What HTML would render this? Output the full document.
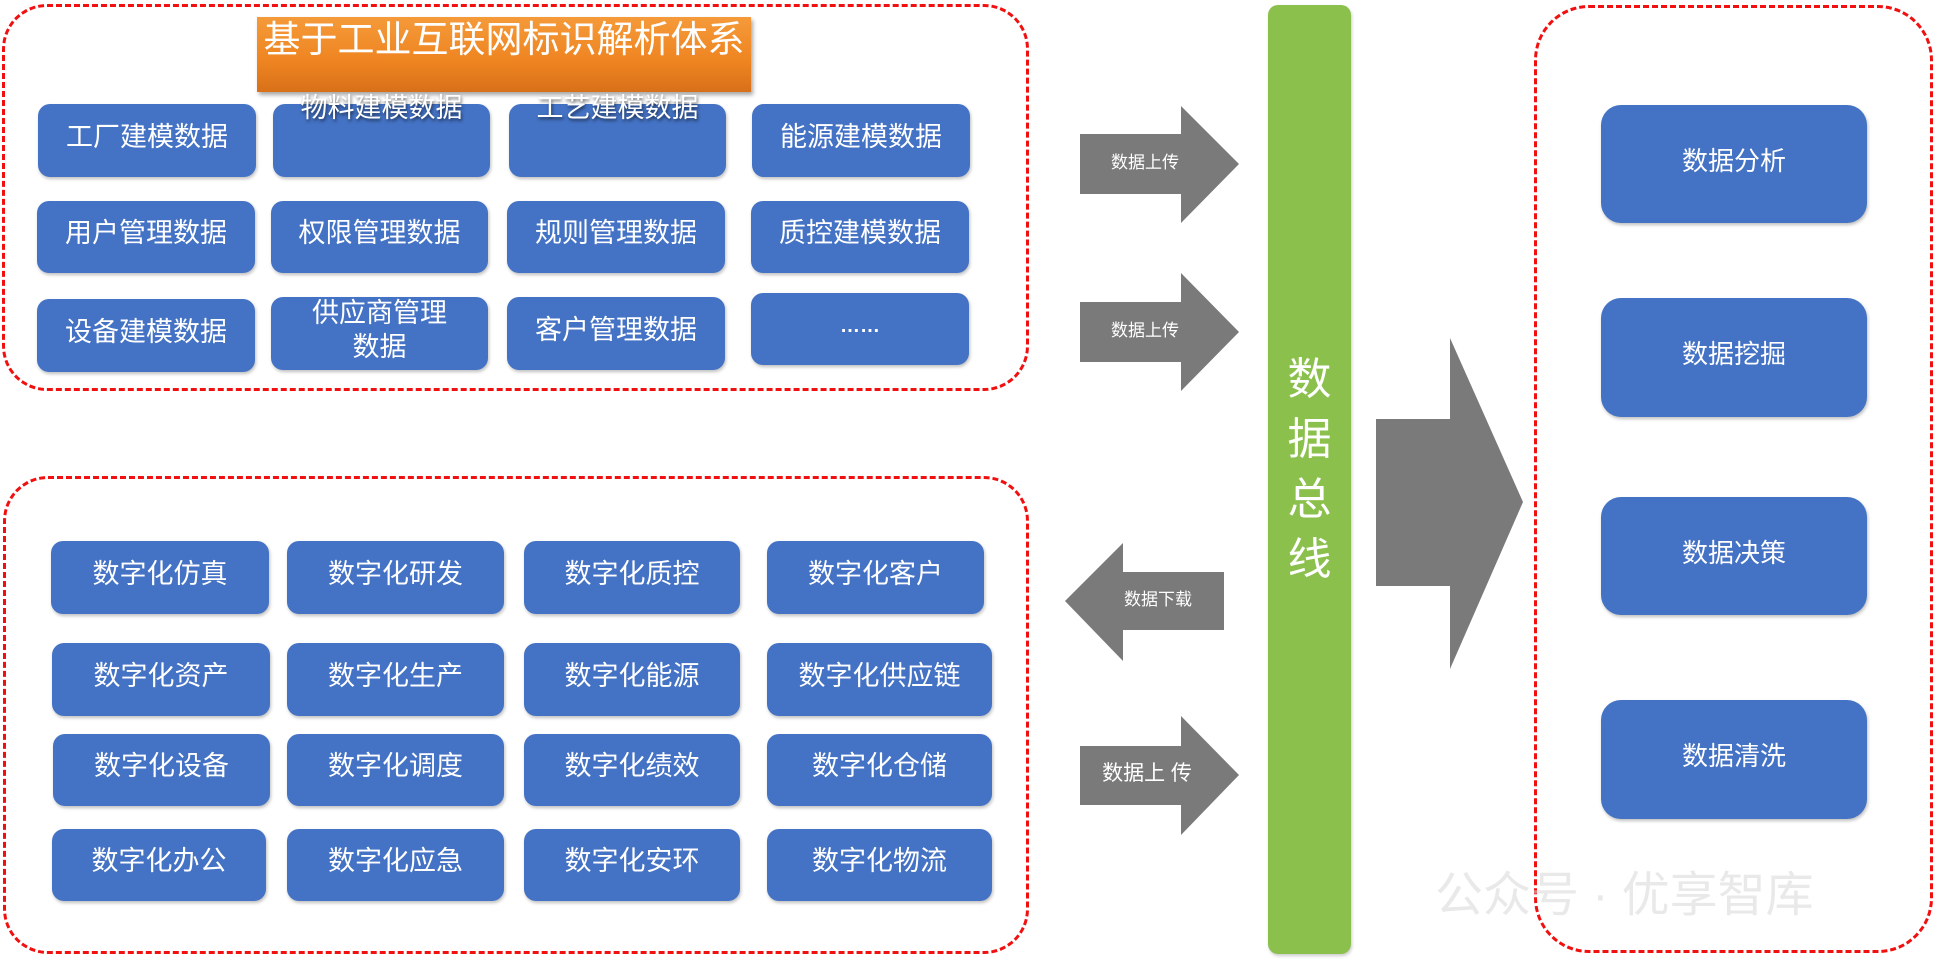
<!DOCTYPE html>
<html><head><meta charset="utf-8"><style>
body{margin:0;width:1935px;height:963px;background:#fff;position:relative;overflow:hidden;font-family:"Liberation Sans","Noto Sans CJK SC",sans-serif;}
.a{position:absolute;box-sizing:border-box;}
.dash{border:3px dashed #f01010;border-radius:45px;}
.b{position:absolute;box-sizing:border-box;background:#4472C4;border-radius:12px;color:#fff;font-size:27px;display:flex;align-items:center;justify-content:center;text-align:center;line-height:1.25;box-shadow:1px 2px 3px rgba(0,0,0,.25);padding-bottom:6px;}
.t{align-items:flex-start;padding-top:0;}
.lbl{position:absolute;color:#fff;font-size:17px;text-align:center;}
</style></head><body>
<div class="a dash" style="left:2px;top:4px;width:1027px;height:387px;"></div>
<div class="a dash" style="left:3px;top:476px;width:1026px;height:478px;"></div>
<div class="a dash" style="left:1534px;top:5px;width:399px;height:948px;border-radius:55px;"></div>

<div class="a" style="left:257px;top:17px;width:494px;height:75px;background:linear-gradient(#f59a3a,#ee8420 60%,#d8701a);box-shadow:2px 3px 4px rgba(0,0,0,.35);color:#fff;font-size:37px;line-height:46px;text-align:center;white-space:nowrap;">基于工业互联网标识解析体系</div>

<div class="b" style="left:38px;top:104px;width:218px;height:73px;">工厂建模数据</div>
<div class="b t" style="left:273px;top:104px;width:217px;height:73px;"><span style="margin-top:-12px;text-shadow:1px 2px 3px rgba(0,0,0,.6)">物料建模数据</span></div>
<div class="b t" style="left:509px;top:104px;width:217px;height:73px;"><span style="margin-top:-12px;text-shadow:1px 2px 3px rgba(0,0,0,.6)">工艺建模数据</span></div>
<div class="b" style="left:752px;top:104px;width:218px;height:73px;">能源建模数据</div>
<div class="b" style="left:37px;top:201px;width:218px;height:72px;">用户管理数据</div>
<div class="b" style="left:271px;top:201px;width:217px;height:72px;">权限管理数据</div>
<div class="b" style="left:507px;top:201px;width:218px;height:72px;">规则管理数据</div>
<div class="b" style="left:751px;top:201px;width:218px;height:72px;">质控建模数据</div>
<div class="b" style="left:37px;top:299px;width:218px;height:73px;">设备建模数据</div>
<div class="b" style="left:271px;top:297px;width:217px;height:73px;">供应商管理<br>数据</div>
<div class="b" style="left:507px;top:297px;width:218px;height:73px;">客户管理数据</div>
<div class="b" style="left:751px;top:293px;width:218px;height:72px;font-size:20px;font-weight:bold;">……</div>

<div class="b" style="left:51px;top:541px;width:218px;height:73px;">数字化仿真</div>
<div class="b" style="left:287px;top:541px;width:217px;height:73px;">数字化研发</div>
<div class="b" style="left:524px;top:541px;width:216px;height:73px;">数字化质控</div>
<div class="b" style="left:767px;top:541px;width:217px;height:73px;">数字化客户</div>
<div class="b" style="left:52px;top:643px;width:218px;height:73px;">数字化资产</div>
<div class="b" style="left:287px;top:643px;width:217px;height:73px;">数字化生产</div>
<div class="b" style="left:524px;top:643px;width:216px;height:73px;">数字化能源</div>
<div class="b" style="left:767px;top:643px;width:225px;height:73px;">数字化供应链</div>
<div class="b" style="left:53px;top:734px;width:217px;height:72px;">数字化设备</div>
<div class="b" style="left:287px;top:734px;width:217px;height:72px;">数字化调度</div>
<div class="b" style="left:524px;top:734px;width:216px;height:72px;">数字化绩效</div>
<div class="b" style="left:767px;top:734px;width:225px;height:72px;">数字化仓储</div>
<div class="b" style="left:52px;top:829px;width:214px;height:72px;">数字化办公</div>
<div class="b" style="left:287px;top:829px;width:217px;height:72px;">数字化应急</div>
<div class="b" style="left:524px;top:829px;width:216px;height:72px;">数字化安环</div>
<div class="b" style="left:767px;top:829px;width:225px;height:72px;">数字化物流</div>

<svg class="a" style="left:0;top:0" width="1935" height="963">
<g fill="#7a7a7a">
<polygon points="1080,134 1181,134 1181,106 1239,164 1181,223 1181,194 1080,194"/>
<polygon points="1080,302 1181,302 1181,273 1239,332 1181,391 1181,362 1080,362"/>
<polygon points="1224,572 1123,572 1123,543 1065,601 1123,661 1123,630 1224,630"/>
<polygon points="1080,746 1181,746 1181,716 1239,775 1181,835 1181,805 1080,805"/>
<polygon points="1376,419 1450,419 1450,338 1523,502 1450,669 1450,586 1376,586"/>
</g>
</svg>
<div class="lbl" style="left:1085px;top:148px;width:120px;">数据上传</div>
<div class="lbl" style="left:1085px;top:316px;width:120px;">数据上传</div>
<div class="lbl" style="left:1098px;top:585px;width:120px;">数据下载</div>
<div class="lbl" style="left:1082px;top:757px;width:130px;font-size:21px;">数据上 传</div>

<div class="a" style="left:1268px;top:5px;width:83px;height:949px;background:#8bc04d;border-radius:10px;box-shadow:1px 2px 3px rgba(0,0,0,.2);"></div>
<div class="a" style="left:1268px;top:350px;width:83px;color:#fff;font-size:44px;line-height:60px;text-align:center;">数<br>据<br>总<br>线</div>

<div class="b" style="left:1601px;top:105px;width:266px;height:118px;border-radius:20px;font-size:26px;">数据分析</div>
<div class="b" style="left:1601px;top:298px;width:266px;height:119px;border-radius:20px;font-size:26px;">数据挖掘</div>
<div class="b" style="left:1601px;top:497px;width:266px;height:118px;border-radius:20px;font-size:26px;">数据决策</div>
<div class="b" style="left:1601px;top:700px;width:266px;height:119px;border-radius:20px;font-size:26px;">数据清洗</div>

<div class="a" style="left:1435px;top:855px;width:450px;color:rgba(215,215,215,.55);font-size:48px;white-space:nowrap;">公众号 · 优享智库</div>
</body></html>
